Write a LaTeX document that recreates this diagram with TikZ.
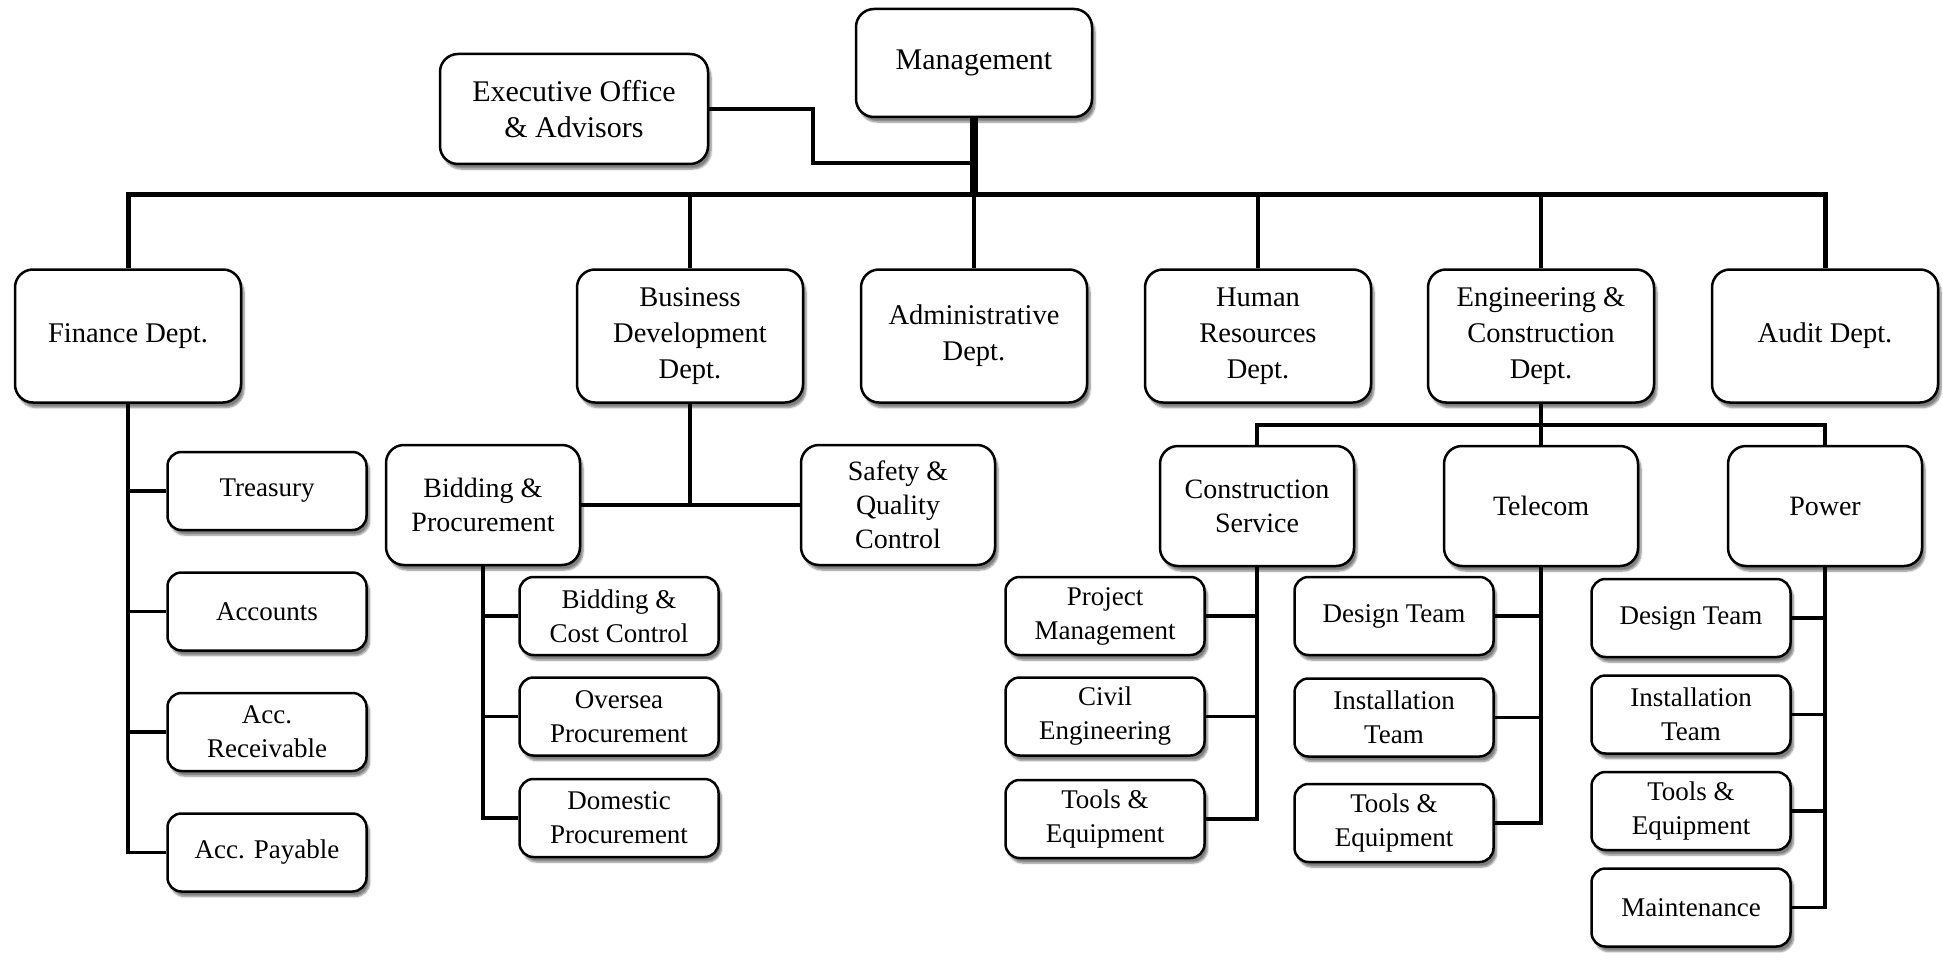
\documentclass[tikz,border=0pt]{standalone}
\usepackage{fontspec}
\setmainfont{Liberation Serif}
\usetikzlibrary{positioning}
\usetikzlibrary{shadows.blur}
\tikzset{
  box/.style={draw, line width=2.5pt, rounded corners=18pt, fill=white, align=center,
    font=\fontsize{27}{34}\selectfont,
    blur shadow={shadow xshift=3pt, shadow yshift=-5pt, shadow blur steps=6, shadow opacity=50}},
  head/.style={box, font=\fontsize{30}{36}\selectfont},
  dept/.style={box, font=\fontsize{28.5}{36}\selectfont, minimum width=226pt, minimum height=133pt},
  group/.style={box, font=\fontsize{28}{34}\selectfont, minimum width=194pt, minimum height=120pt},
  unit/.style={box, rounded corners=14pt, minimum width=199pt, minimum height=78pt},
  link/.style={line width=3.8pt},
  bus/.style={line width=5pt},
}

\begin{document}
\begin{tikzpicture}[x=1pt, y=-1pt]
    \useasboundingbox (0,0) rectangle (1943,960);

    \node (mgmt) [head, minimum width=236pt, minimum height=108pt] at (974,63) {Management};
    \node (exec) [head, minimum width=268pt, minimum height=110pt] at (574,109) {Executive Office\\ \& Advisors};

    \node (fin) [dept] at (128,336) {Finance Dept.};
    \node (bd)  [dept] at (690,336) {Business\\ Development\\ Dept.};
    \node (adm) [dept] at (974,336) {Administrative\\ Dept.};
    \node (hr)  [dept] at (1258,336) {Human\\ Resources\\ Dept.};
    \node (eng) [dept] at (1541,336) {Engineering \&\\ Construction\\ Dept.};
    \node (aud) [dept] at (1825,336) {Audit Dept.};

    \node (treas) [unit] at (267,491) {Treasury};
    \node (acct)  [unit, below=40pt of treas] {Accounts};
    \node (recv)  [unit, below=40pt of acct] {Acc.\\ Receivable};
    \node (pay)   [unit, below=40pt of recv] {Acc. Payable};

    \node (bid)  [group] at (483,505) {Bidding \&\\ Procurement};
    \node (safe) [group] at (898,505) {Safety \&\\ Quality\\ Control};
    \node (bcc)  [unit] at (619,616) {Bidding \&\\ Cost Control};
    \node (over) [unit, below=20pt of bcc] {Oversea\\ Procurement};
    \node (dom)  [unit, below=21pt of over] {Domestic\\ Procurement};

    \node (cs)  [group] at (1257,506) {Construction\\ Service};
    \node (tel) [group] at (1541,506) {Telecom};
    \node (pow) [group] at (1825,506) {Power};

    \node (pm)    [unit] at (1105,616) {Project\\ Management};
    \node (civ)   [unit, below=20pt of pm] {Civil\\ Engineering};
    \node (cstl)  [unit, below=22pt of civ] {Tools \&\\ Equipment};

    \node (tdes)  [unit] at (1394,616) {Design Team};
    \node (tins)  [unit, below=21pt of tdes] {Installation\\ Team};
    \node (ttl)   [unit, below=25pt of tins] {Tools \&\\ Equipment};

    \node (pdes)  [unit] at (1691,618) {Design Team};
    \node (pins)  [unit, below=16pt of pdes] {Installation\\ Team};
    \node (ptl)   [unit, below=16pt of pins] {Tools \&\\ Equipment};
    \node (pmnt)  [unit, below=16pt of ptl] {Maintenance};

    \coordinate (top) at (974,195);
    \coordinate (elbow) at (813,163);
    \coordinate (engbus) at (1541,425);

    \path [draw, bus] (fin.north) |- (top) -| (aud.north);
    \path [draw, line width=8pt] (mgmt.south) -- (top);
    \path [draw, link] (exec.east) -| (elbow) -- (elbow -| mgmt.south);
    \path [draw, link] (bd.north) -- (bd.north |- top);
    \path [draw, link] (adm.north) -- (adm.north |- top);
    \path [draw, link] (hr.north) -- (hr.north |- top);
    \path [draw, link] (eng.north) -- (eng.north |- top);

    \path [draw, link] (fin.south) |- (pay.west);
    \path [draw, link] (fin.south) |- (treas.west);
    \path [draw, link] (fin.south) |- (acct.west);
    \path [draw, link] (fin.south) |- (recv.west);

    \path [draw, link] (bid.east) -- (safe.west);
    \path [draw, link] (bd.south) -- (bd.south |- safe.west);
    \path [draw, link] (bid.south) |- (dom.west);
    \path [draw, link] (bid.south) |- (bcc.west);
    \path [draw, link] (bid.south) |- (over.west);

    \path [draw, link] (cs.north) |- (engbus) -| (pow.north);
    \path [draw, link] (eng.south) -- (tel.north);

    \path [draw, link] (cs.south) |- (cstl.east);
    \path [draw, link] (cs.south) |- (pm.east);
    \path [draw, link] (cs.south) |- (civ.east);

    \path [draw, link] (tel.south) |- (ttl.east);
    \path [draw, link] (tel.south) |- (tdes.east);
    \path [draw, link] (tel.south) |- (tins.east);

    \path [draw, link] (pow.south) |- (pmnt.east);
    \path [draw, link] (pow.south) |- (pdes.east);
    \path [draw, link] (pow.south) |- (pins.east);
    \path [draw, link] (pow.south) |- (ptl.east);
\end{tikzpicture}
\end{document}
